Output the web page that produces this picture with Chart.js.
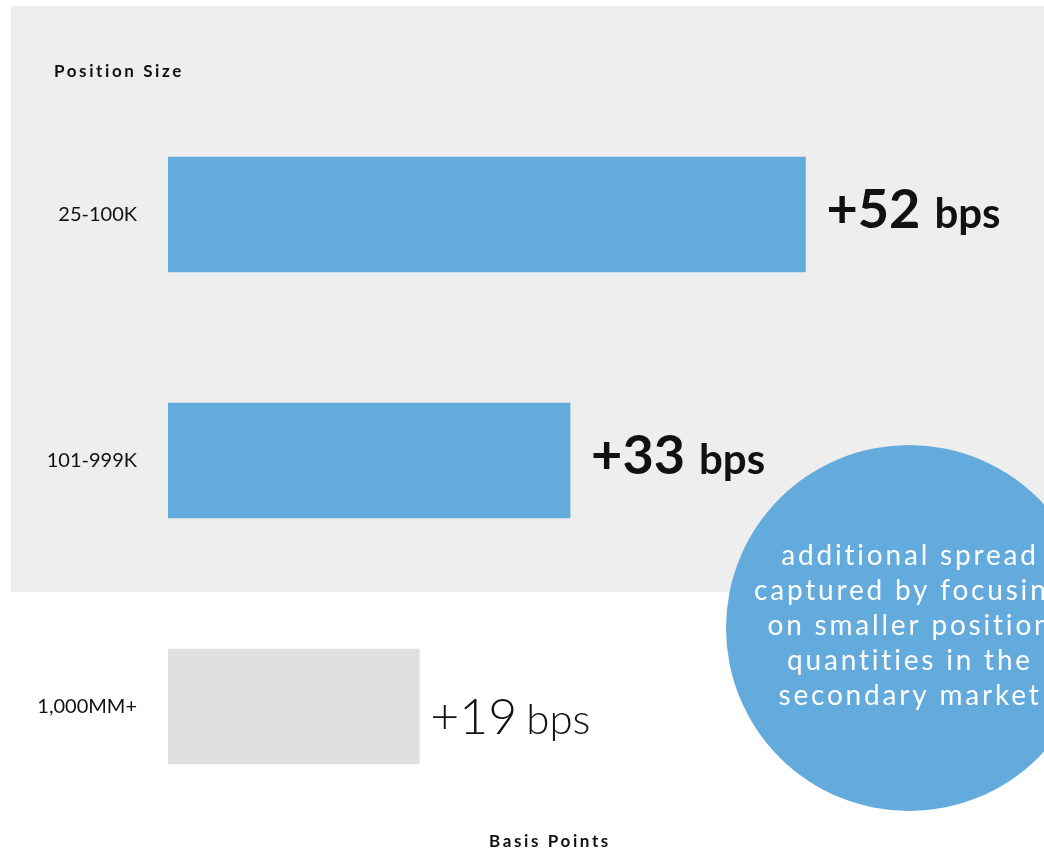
<!DOCTYPE html>
<html>
<head>
<meta charset="utf-8">
<script src="https://cdn.jsdelivr.net/npm/chart.js@4.4.1/dist/chart.umd.min.js"></script>
<style>
  body { margin: 0; background: #fff; }
  canvas { display: block; }
</style>
</head>
<body>
<canvas id="spreadChart" width="1044" height="850"></canvas>
<script>
const positionSizes = ['25-100K', '101-999K', '1,000MM+'];
const barLengths = [52, 32.8, 20.5];          // bar length in bps, as drawn
const spreadLabels = ['+52', '+33', '+19'];
const unitLabel = 'bps';
const calloutLines = [
    'additional spread',
    'captured by focusing',
    'on smaller position',
    'quantities in the',
    'secondary market'
];
const yAxisTitle = 'Position Size';
const xAxisTitle = 'Basis Points';

const blue = '#63aadd';
const grey = '#dfe0e2';
const ink = '#111';

// grey panel behind the two highlighted rows, value labels, titles and the callout bubble
const decorations = {
    id: 'decorations',
    beforeDraw(chart) {
        const ctx = chart.ctx;
        ctx.save();
        ctx.fillStyle = '#eeeeee';
        ctx.fillRect(11, 6, chart.width - 11, 586);
        ctx.restore();
    },
    afterDatasetsDraw(chart) {
        const ctx = chart.ctx;
        const bars = chart.getDatasetMeta(0).data;
        ctx.save();
        ctx.fillStyle = ink;
        ctx.textAlign = 'left';
        ctx.textBaseline = 'alphabetic';
        bars.forEach((bar, i) => {
            const highlight = i < 2;
            const x = bar.x + (highlight ? 21 : 11);
            const y = bar.y + (highlight ? 13 : 27);
            ctx.font = (highlight ? 'bold 54px' : '300 50px') + ' Lato';
            ctx.fillText(spreadLabels[i], x, y);
            const w = ctx.measureText(spreadLabels[i]).width;
            ctx.font = (highlight ? 'bold 42px' : '300 42px') + ' Lato';
            ctx.fillText(unitLabel, x + w + (highlight ? 14 : 9), y);
        });

        ctx.font = 'bold 17px Lato';
        ctx.letterSpacing = '2.6px';
        ctx.fillText(yAxisTitle, 54, 77);
        ctx.textAlign = 'center';
        ctx.fillText(xAxisTitle, 550, 847);

        ctx.letterSpacing = '0px';
        ctx.beginPath();
        ctx.arc(909, 628, 183, 0, Math.PI * 2);
        ctx.fillStyle = blue;
        ctx.fill();

        ctx.fillStyle = '#fff';
        ctx.font = '28px Lato';
        ctx.letterSpacing = '2.8px';
        calloutLines.forEach((line, i) => {
            ctx.fillText(line, 910, 565 + i * 35);
        });
        ctx.restore();
    }
};

const ctx = document.getElementById('spreadChart').getContext('2d');
new Chart(ctx, {
    type: 'bar',
    data: {
        labels: positionSizes,
        datasets: [{
            data: barLengths,
            backgroundColor: positionSizes.map((_, i) => i < 2 ? blue : grey),
            borderWidth: 0,
            barThickness: 115
        }]
    },
    options: {
        indexAxis: 'y',
        responsive: false,
        animation: false,
        layout: {
            padding: { top: 91.5, bottom: 20.5, left: 0, right: 116 }
        },
        scales: {
            x: {
                min: 0,
                max: 62,
                display: false
            },
            y: {
                // invisible tick marks give the gap between labels and bars
                grid: { display: true, drawOnChartArea: false, drawTicks: true, tickLength: 31, color: 'rgba(0,0,0,0)' },
                border: { display: false },
                ticks: {
                    color: ink,
                    padding: 0,
                    font: { family: 'Lato', size: 20 }
                },
                afterFit(scale) {
                    scale.width = 168;
                }
            }
        },
        plugins: {
            legend: { display: false },
            tooltip: { enabled: false }
        }
    },
    plugins: [decorations]
});
</script>
</body>
</html>
